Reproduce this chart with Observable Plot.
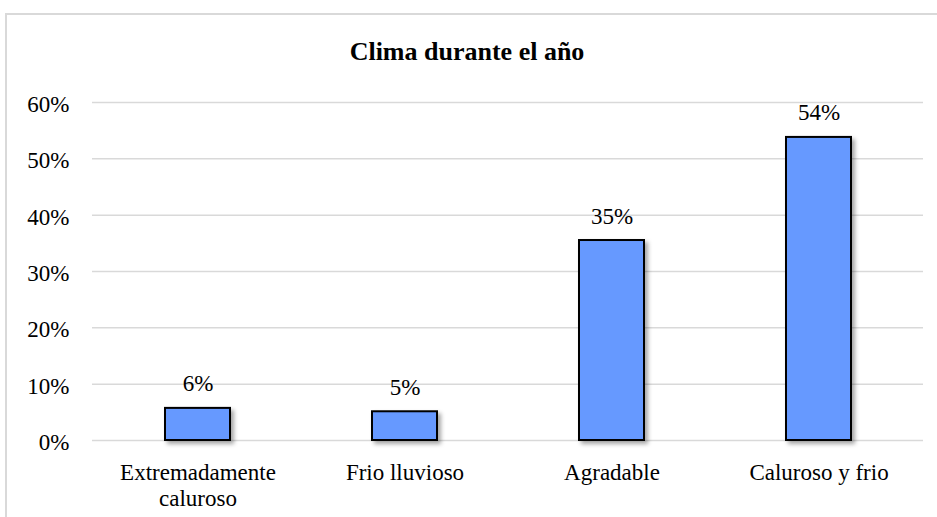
<!DOCTYPE html>
<html>
<head>
<meta charset="utf-8">
<script src="https://cdn.jsdelivr.net/npm/d3@7"></script>
<script src="https://cdn.jsdelivr.net/npm/@observablehq/plot@0.6"></script>
<style>
  body { margin: 0; background: #fff; }
  #wrap { position: relative; width: 937px; height: 517px; overflow: hidden; font-family: "Liberation Serif", "Times New Roman", serif; }
  #frame { position: absolute; left: 5px; top: 13px; width: 960px; height: 560px; border: 2px solid #d9d9d9; box-sizing: border-box; }
  #title { position: absolute; left: 0; width: 934px; top: 39px; text-align: center; font-weight: bold; font-size: 26px; line-height: 26px; color: #000; }
  #chart { position: absolute; left: 0; top: 0; }
  g[aria-label="bar"] rect { filter: drop-shadow(3px 3px 2px rgba(0,0,0,0.35)); }
</style>
</head>
<body>
<div id="wrap">
  <div id="frame"></div>
  <div id="title">Clima durante el año</div>
  <div id="chart"></div>
</div>
<script>
const categories = ["Extremadamente\ncaluroso", "Frio lluvioso", "Agradable", "Caluroso y frio"];
const values = [0.057, 0.051, 0.355, 0.538];
const valueLabels = ["6%", "5%", "35%", "54%"];
const yTicks = [0, 0.1, 0.2, 0.3, 0.4, 0.5, 0.6];

const data = categories.map((c, i) => ({category: c, value: values[i], label: valueLabels[i]}));

const chart = Plot.plot({
  width: 937,
  height: 517,
  marginTop: 102,
  marginBottom: 77,
  marginLeft: 92,
  marginRight: 14,
  style: {fontFamily: '"Liberation Serif", "Times New Roman", serif', fontSize: "23px", color: "#000", background: "transparent"},
  x: {domain: categories, paddingInner: 0.687, paddingOuter: 0.3435, label: null},
  y: {domain: [0, 0.6], label: null},
  marks: [
    Plot.gridY(yTicks, {stroke: "#d9d9d9", strokeOpacity: 1, strokeWidth: 1.5}),
    Plot.axisY(yTicks, {tickSize: 0, tickPadding: 23, dy: 2, tickFormat: d => Math.round(d * 100) + "%", fontSize: 23, label: null}),
    Plot.axisX({tickSize: 0, tickPadding: 21, fontSize: 23, lineHeight: 1.13, label: null}),
    Plot.barY(data, {x: "category", y: "value", fill: "#6699ff", stroke: "#000", strokeWidth: 2}),
    Plot.text(data, {x: "category", y: "value", text: "label", dy: -17, lineAnchor: "bottom", fontSize: 23})
  ]
});
document.getElementById("chart").appendChild(chart);
</script>
</body>
</html>
